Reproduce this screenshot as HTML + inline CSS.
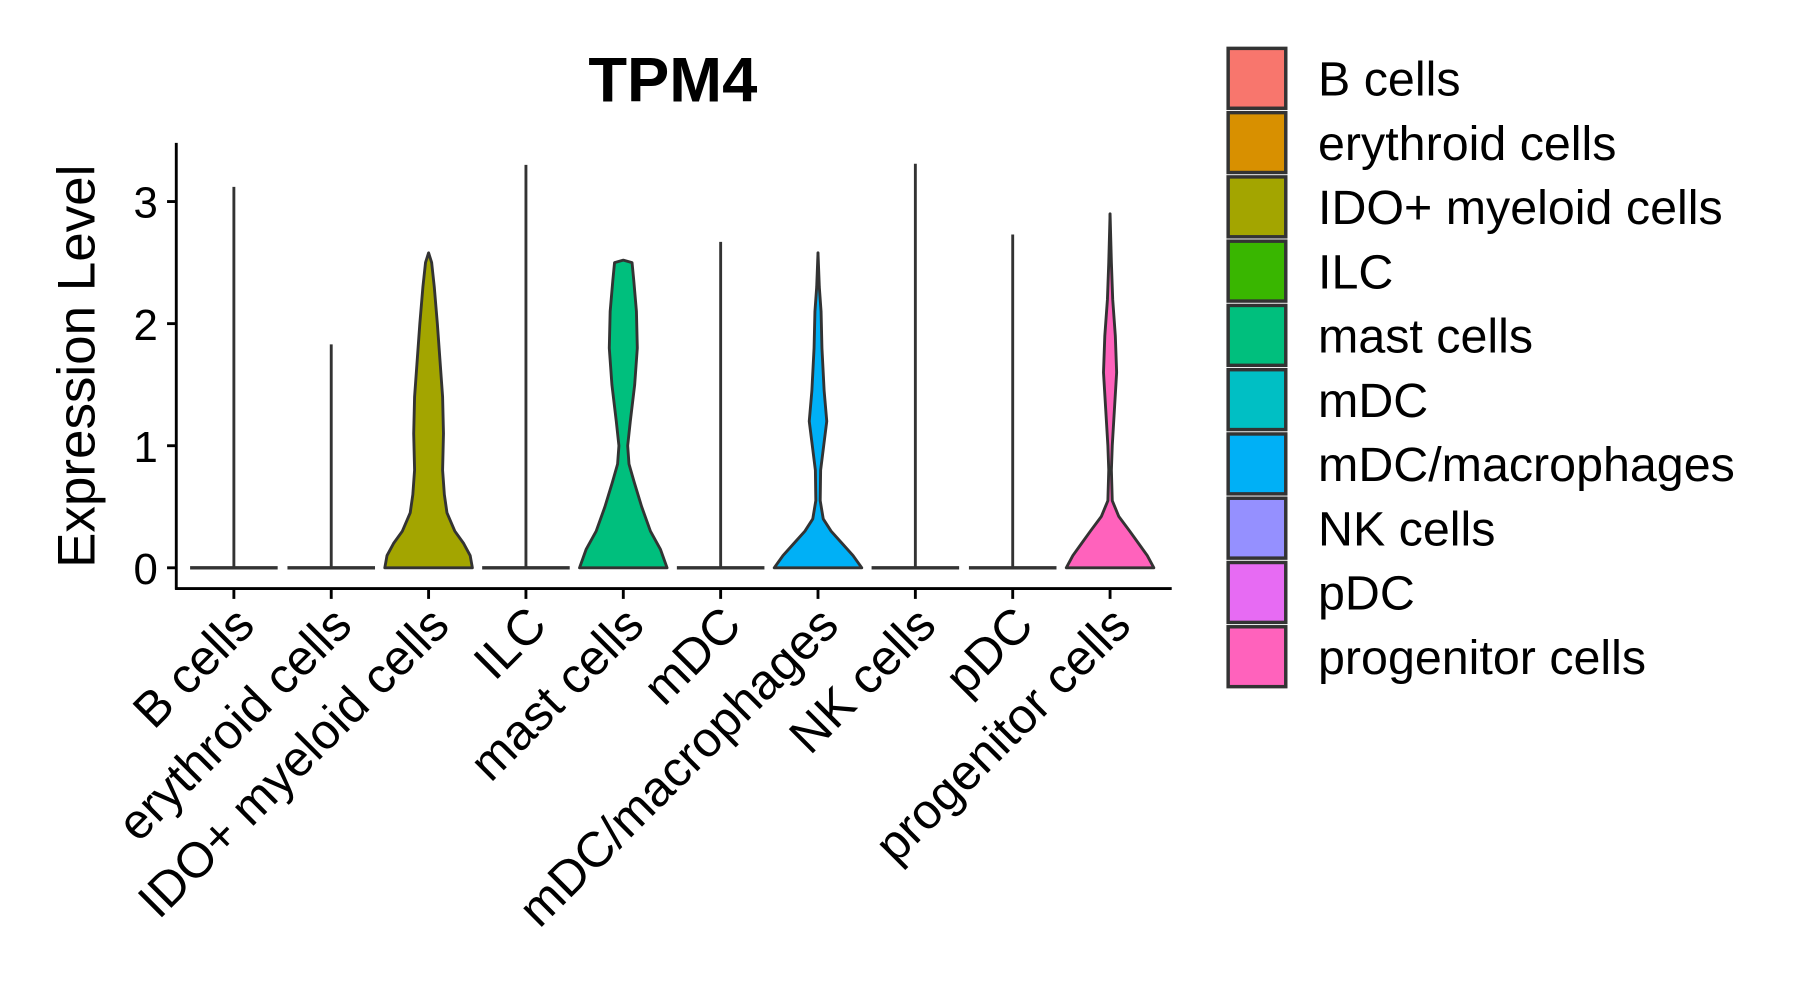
<!DOCTYPE html>
<html><head><meta charset="utf-8"><style>
html,body{margin:0;padding:0;background:#fff;}
svg{display:block;font-family:"Liberation Sans",Arial,sans-serif;}
</style></head><body>
<svg id="chart" width="1795" height="1002" viewBox="0 0 1558 870" preserveAspectRatio="none" xmlns="http://www.w3.org/2000/svg">
<rect width="1558" height="870" fill="#fff"/>
<text x="584" y="88" font-size="55" font-weight="bold" text-anchor="middle">TPM4</text>
<text transform="translate(82,318) rotate(-90)" font-size="46" text-anchor="middle">Expression Level</text>
<g id="plot"></g>
<g id="legend"></g>
</svg>
<script>
const categories = ["B cells","erythroid cells","IDO+ myeloid cells","ILC","mast cells","mDC","mDC/macrophages","NK cells","pDC","progenitor cells"];
const colors = ["#F8766D","#D89000","#A3A500","#39B600","#00BF7D","#00BFC4","#00B0F6","#9590FF","#E76BF3","#FF62BC"];
const maxValues = [3.12,1.83,2.58,3.30,2.52,2.67,2.58,3.31,2.73,2.90];
const yTicks = [0,1,2,3];
// density profiles: [expression level, relative half-width]
const profiles = [
 null,null,
 [[0,1],[0.1,0.95],[0.2,0.8],[0.3,0.6],[0.45,0.42],[0.6,0.36],[0.8,0.32],[1.1,0.34],[1.4,0.32],[1.7,0.26],[2.0,0.2],[2.3,0.13],[2.5,0.07],[2.58,0]],
 null,
 [[0,1],[0.15,0.85],[0.3,0.62],[0.5,0.42],[0.7,0.25],[0.85,0.13],[1.0,0.1],[1.2,0.16],[1.5,0.26],[1.8,0.32],[2.1,0.3],[2.35,0.24],[2.5,0.2],[2.52,0]],
 null,
 [[0,1],[0.1,0.8],[0.2,0.55],[0.3,0.3],[0.4,0.12],[0.55,0.05],[0.8,0.06],[1.0,0.13],[1.2,0.2],[1.45,0.14],[1.8,0.09],[2.1,0.07],[2.3,0.03],[2.58,0]],
 null,null,
 [[0,1],[0.1,0.85],[0.2,0.65],[0.3,0.45],[0.42,0.2],[0.55,0.05],[0.8,0.03],[1.0,0.05],[1.3,0.1],[1.6,0.15],[1.9,0.12],[2.2,0.06],[2.5,0.03],[2.9,0]]
];
const NS="http://www.w3.org/2000/svg";
const x0=153, x1=1017, yTop=124, yAxisY=511;
function yScale(v){return 493-106*v;}
function xScale(i){return 203+i*84.5;}
const halfW=38;
const plot=document.getElementById('plot');
function mk(tag,attrs,parent){const e=document.createElementNS(NS,tag);for(const k in attrs)e.setAttribute(k,attrs[k]);(parent||plot).appendChild(e);return e;}
const ya=mk('line',{x1:x0,y1:yTop,x2:x0,y2:yAxisY+1,stroke:'#000','stroke-width':2.5});


const xa=mk('line',{x1:x0-1,y1:yAxisY,x2:x1,y2:yAxisY,stroke:'#000','stroke-width':2.5});


yTicks.forEach(t=>{
 const y=yScale(t);
 const tk=mk('line',{x1:x0-8,y1:y,x2:x0,y2:y,stroke:'#000','stroke-width':2.5});
 
 
 const tl=mk('text',{x:x0-16,y:y+14,'font-size':38,'text-anchor':'end'});
 tl.textContent=t;
 
 
});
categories.forEach((c,i)=>{
 const cx=xScale(i);
 const tk=mk('line',{x1:cx,y1:yAxisY,x2:cx,y2:yAxisY+9,stroke:'#000','stroke-width':2.5});
 
 
 const tl=mk('text',{transform:`translate(${cx+20},${yAxisY+34}) rotate(-45)`,'font-size':43,'text-anchor':'end'});
 tl.textContent=c;
 
 
 const g=mk('g',{});
 
 
 const p=profiles[i];
 if(p){
  let right=p.map(([v,w])=>`${cx+w*halfW},${yScale(v)}`);
  let left=p.slice().reverse().map(([v,w])=>`${cx-w*halfW},${yScale(v)}`);
  mk('line',{x1:cx,y1:yScale(maxValues[i]),x2:cx,y2:yScale(0),stroke:'#333','stroke-width':2.5},g);
  mk('polygon',{points:right.concat(left).join(' '),fill:colors[i],stroke:'#333','stroke-width':2.5,'stroke-linejoin':'round'},g);
 } else {
  mk('line',{x1:cx,y1:yScale(maxValues[i]),x2:cx,y2:yScale(0),stroke:'#333','stroke-width':2.5},g);
  mk('line',{x1:cx-halfW,y1:yScale(0),x2:cx+halfW,y2:yScale(0),stroke:'#333','stroke-width':3},g);
 }
});
const leg=document.getElementById('legend');
categories.forEach((c,i)=>{
 const y=42+i*55.8;
 const r=mk('rect',{x:1066,y:y,width:50,height:52,fill:colors[i],stroke:'#333','stroke-width':3},leg);
 
 
 const t=mk('text',{x:1144,y:y+41,'font-size':42},leg);
 t.textContent=c;
 
 
});
</script>
</body></html>
